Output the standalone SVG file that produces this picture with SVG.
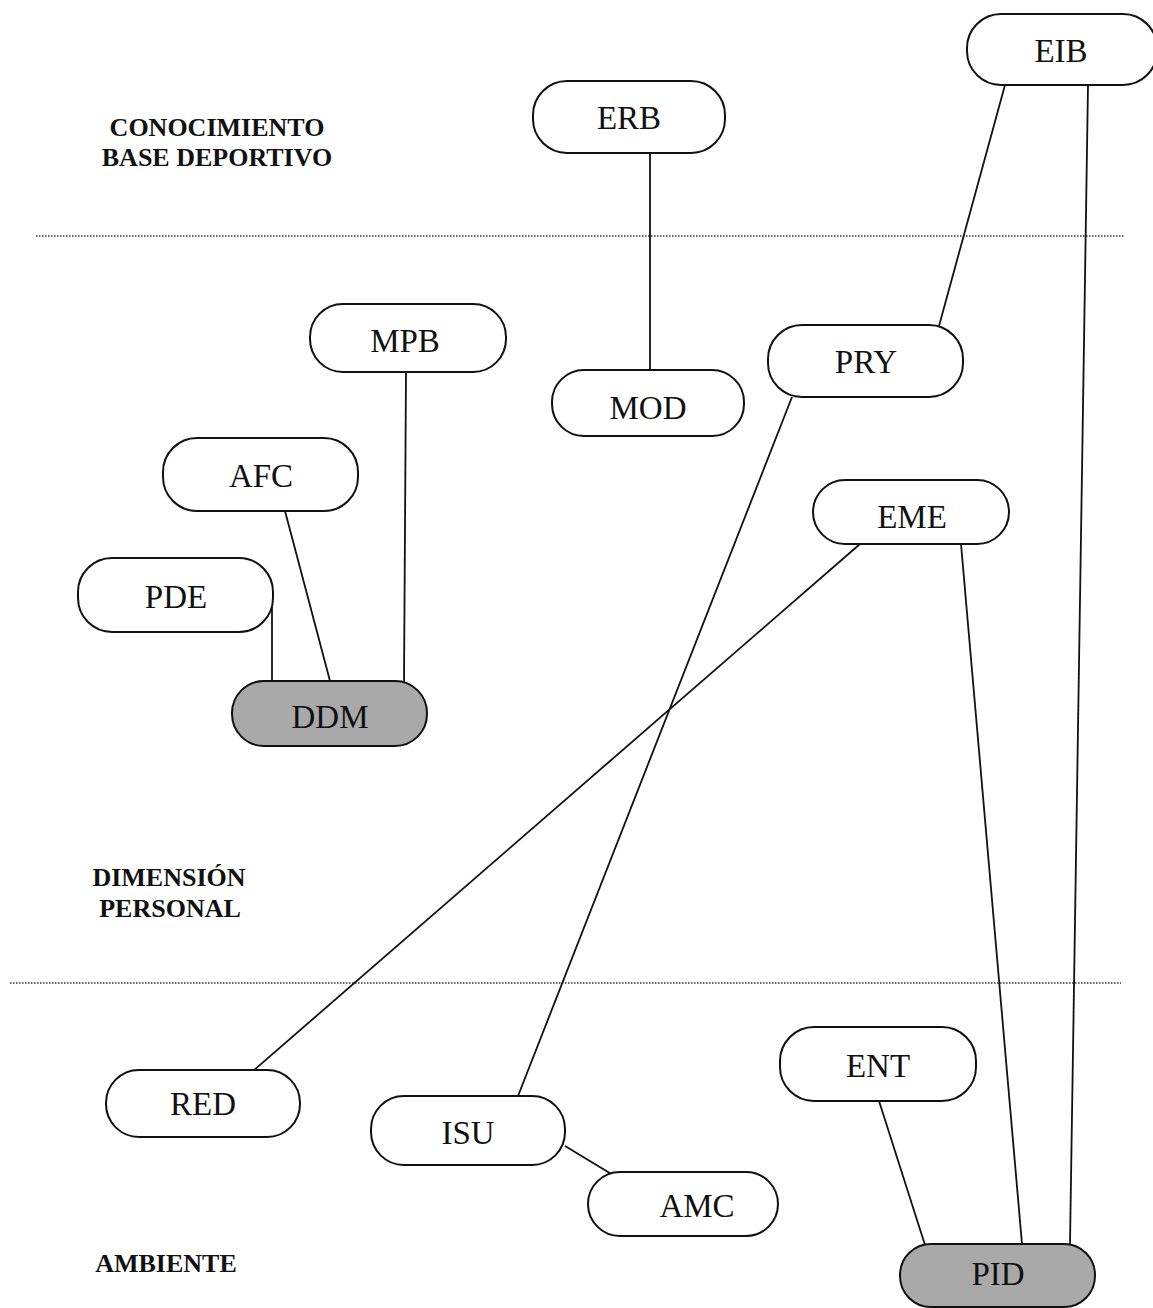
<svg xmlns="http://www.w3.org/2000/svg" width="1153" height="1308" viewBox="0 0 1153 1308">
  <style>
    .node rect { fill: #ffffff; stroke: #111111; stroke-width: 2; }
    .node.core rect { fill: #a9a9a9; }
    .node text { font-family: "Liberation Serif", "Times New Roman", serif; font-size: 33px; fill: #111111; text-anchor: middle; }
    .zone { font-family: "Liberation Serif", "Times New Roman", serif; font-size: 26px; font-weight: bold; fill: #111111; text-anchor: middle; }
    .sep { stroke: #333333; stroke-width: 1.5; stroke-dasharray: 1.5 1.5; fill: none; }
    #connectors line { stroke: #111111; stroke-width: 1.8; fill: none; }
  </style>

  <rect x="0" y="0" width="1153" height="1308" fill="#ffffff"/>

  <!-- zone separators -->
  <line class="sep" x1="36" y1="236" x2="1125" y2="236"/>
  <line class="sep" x1="10" y1="983" x2="1121" y2="983"/>

  <!-- zone titles -->
  <text class="zone" x="217" y="136">CONOCIMIENTO</text>
  <text class="zone" x="217" y="166">BASE DEPORTIVO</text>
  <text class="zone" x="169" y="886">DIMENSIÓN</text>
  <text class="zone" x="170" y="917">PERSONAL</text>
  <text class="zone" x="166" y="1272">AMBIENTE</text>

  <!-- connectors -->
  <g id="connectors">
    <line x1="650" y1="153" x2="650" y2="370"/>
    <line x1="1005" y1="85" x2="939" y2="326"/>
    <line x1="1088" y1="85" x2="1070" y2="1244"/>
    <line x1="406" y1="372" x2="404" y2="682"/>
    <line x1="285" y1="511" x2="330" y2="681"/>
    <line x1="272" y1="607" x2="272" y2="681"/>
    <line x1="792" y1="397" x2="518" y2="1096"/>
    <line x1="860" y1="544" x2="253" y2="1071"/>
    <line x1="961" y1="544" x2="1022" y2="1244"/>
    <line x1="565" y1="1146" x2="613" y2="1175"/>
    <line x1="879" y1="1101" x2="925" y2="1245"/>
  </g>

  <!-- nodes -->
  <g id="node-ERB" class="node"><rect x="533" y="81" width="192" height="72" rx="34"/><text x="629" y="129">ERB</text></g>
  <g id="node-EIB" class="node"><rect x="967" y="14" width="190" height="71" rx="34"/><text x="1061" y="62">EIB</text></g>
  <g id="node-MPB" class="node"><rect x="310" y="304" width="196" height="68" rx="33"/><text x="405" y="352">MPB</text></g>
  <g id="node-MOD" class="node"><rect x="552" y="370" width="192" height="66" rx="32"/><text x="648" y="419">MOD</text></g>
  <g id="node-PRY" class="node"><rect x="768" y="325" width="195" height="72" rx="34"/><text x="866" y="373">PRY</text></g>
  <g id="node-AFC" class="node"><rect x="163" y="438" width="195" height="73" rx="34"/><text x="261" y="487">AFC</text></g>
  <g id="node-EME" class="node"><rect x="813" y="480" width="196" height="64" rx="32"/><text x="912" y="528">EME</text></g>
  <g id="node-PDE" class="node"><rect x="78" y="558" width="195" height="74" rx="34"/><text x="176" y="608">PDE</text></g>
  <g id="node-DDM" class="node core"><rect x="232" y="681" width="195" height="65" rx="32"/><text x="330" y="728">DDM</text></g>
  <g id="node-RED" class="node"><rect x="106" y="1070" width="194" height="67" rx="33"/><text x="203" y="1115">RED</text></g>
  <g id="node-ISU" class="node"><rect x="371" y="1096" width="194" height="69" rx="33"/><text x="468" y="1144">ISU</text></g>
  <g id="node-AMC" class="node"><rect x="588" y="1172" width="190" height="64" rx="32"/><text x="697" y="1217">AMC</text></g>
  <g id="node-ENT" class="node"><rect x="780" y="1027" width="196" height="74" rx="34"/><text x="878" y="1077">ENT</text></g>
  <g id="node-PID" class="node core"><rect x="900" y="1244" width="195" height="63" rx="31"/><text x="998" y="1285">PID</text></g>
</svg>
